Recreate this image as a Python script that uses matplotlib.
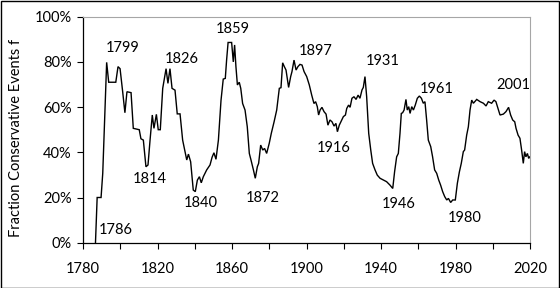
import matplotlib
matplotlib.use("Agg")
import matplotlib.pyplot as plt
from matplotlib.ticker import FuncFormatter, FixedLocator
from matplotlib.patches import Rectangle

plt.rcParams['font.family'] = ['Lato', 'DejaVu Sans']

years = [1786.7, 1787.6, 1789.7, 1790.6, 1792.7, 1793.8, 1797.6, 1798.8, 1799.9, 1801.3,
         1802.5, 1803.6, 1805.8, 1807.0, 1810.2, 1811.1, 1812.4, 1813.8, 1814.9, 1816.0,
         1817.2, 1818.1, 1819.4, 1820.4, 1821.5, 1822.8, 1824.6, 1825.6, 1826.7, 1827.8,
         1829.4, 1830.6, 1832.1, 1833.5, 1834.8, 1835.7, 1836.6, 1837.8, 1839.2, 1840.3,
         1841.4, 1842.5, 1843.5, 1844.6, 1846.4, 1848.2, 1849.3, 1850.3, 1851.4, 1852.7,
         1854.1, 1855.3, 1856.4, 1857.1, 1857.9, 1859.8, 1860.7, 1861.4, 1862.1, 1862.9,
         1863.9, 1864.7, 1865.7, 1867.0, 1868.2, 1869.3, 1870.2, 1871.5, 1872.5, 1873.6,
         1874.3, 1875.4, 1876.5, 1877.5, 1878.6, 1880.0, 1881.1, 1882.6, 1884.0, 1885.4,
         1886.3, 1887.2, 1888.1, 1889.0, 1890.4, 1891.5, 1892.2, 1893.3, 1894.4, 1895.4,
         1896.5, 1897.6, 1898.7, 1900.1, 1901.5, 1902.8, 1904.0, 1904.9, 1905.8, 1906.5,
         1907.3, 1908.3, 1909.4, 1910.5, 1911.5, 1912.6, 1913.7, 1914.8, 1915.8, 1916.6,
         1917.6, 1918.9, 1919.8, 1920.9, 1921.6, 1922.6, 1923.4, 1924.4, 1925.5, 1926.6,
         1927.7, 1928.7, 1929.8, 1930.5, 1931.4, 1932.3, 1933.4, 1934.5, 1935.5, 1936.8,
         1938.0, 1939.5, 1941.3, 1943.0, 1944.8, 1946.3, 1947.3, 1948.4, 1949.3, 1950.2,
         1950.9, 1951.6, 1952.4, 1953.4, 1954.1, 1954.9, 1955.6, 1956.5, 1957.4, 1958.4,
         1959.5, 1960.6, 1961.7, 1962.7, 1963.6, 1964.5, 1965.4, 1966.7, 1967.7, 1968.8,
         1969.9, 1971.0, 1972.0, 1973.1, 1974.2, 1975.3, 1976.2, 1977.4, 1978.5, 1979.9,
         1981.0, 1982.1, 1983.1, 1984.2, 1984.9, 1986.0, 1986.9, 1987.8, 1988.7, 1989.6,
         1991.4, 1993.2, 1995.0, 1996.4, 1997.6, 1999.4, 2000.7, 2001.7, 2002.5, 2003.9,
         2005.7, 2007.1, 2008.5, 2009.6, 2010.7, 2011.8, 2012.5, 2013.6, 2014.6, 2015.5,
         2016.4, 2017.1, 2017.8, 2018.6, 2019.3, 2019.9]

fraction = [0.0, 20.0, 20.0, 30.7, 79.8, 71.0, 71.0, 77.9, 77.0, 66.8,
            57.5, 66.8, 66.4, 50.6, 50.0, 46.0, 45.4, 33.6, 34.4, 45.4,
            56.5, 50.6, 56.8, 50.0, 50.0, 68.3, 77.0, 70.5, 77.0, 68.3,
            67.5, 57.0, 57.0, 45.4, 40.3, 36.6, 39.2, 35.8, 23.3, 22.6,
            27.7, 29.2, 26.5, 29.2, 32.2, 34.4, 37.8, 39.8, 36.9, 45.4,
            63.0, 72.4, 72.7, 80.8, 88.6, 88.6, 80.0, 87.5, 78.0, 69.8,
            71.0, 68.3, 61.6, 58.7, 51.3, 39.5, 36.6, 32.2, 28.5, 33.6,
            35.1, 43.2, 41.0, 41.7, 39.5, 44.0, 48.4, 53.5, 58.7, 68.3,
            68.6, 79.6, 77.9, 76.4, 68.7, 73.5, 75.7, 80.8, 76.4, 77.9,
            78.9, 78.6, 75.7, 73.5, 69.8, 65.3, 61.6, 62.4, 60.2, 56.5,
            58.7, 59.9, 58.0, 56.9, 52.0, 54.3, 53.5, 51.6, 52.8, 49.1,
            52.0, 54.3, 55.8, 56.5, 59.4, 60.9, 59.9, 63.9, 64.6, 63.4,
            65.3, 63.9, 67.6, 68.7, 73.5, 64.6, 48.4, 41.0, 35.1, 32.2,
            29.9, 28.5, 27.7, 27.0, 25.5, 24.0, 31.4, 38.0, 39.5, 48.4,
            57.2, 57.5, 58.7, 63.4, 58.7, 60.2, 57.2, 60.2, 58.7, 60.9,
            63.9, 64.9, 63.9, 61.7, 62.4, 54.3, 45.4, 42.5, 38.0, 32.2,
            30.7, 27.7, 25.5, 22.6, 20.4, 18.9, 19.6, 17.8, 18.9, 18.9,
            26.3, 31.4, 35.1, 40.3, 41.0, 47.6, 51.3, 58.7, 63.1, 61.7,
            63.4, 62.4, 61.7, 60.5, 62.4, 61.7, 63.1, 62.4, 60.2, 56.5,
            56.9, 58.0, 59.9, 56.5, 54.3, 53.5, 50.6, 47.6, 46.2, 41.0,
            35.1, 40.3, 38.0, 39.5, 37.3, 38.0]

label_text = ["1786", "1799", "1814", "1826", "1840", "1859", "1872",
              "1897", "1916", "1931", "1946", "1961", "1980", "2001"]
label_x = [1797.7, 1801.5, 1816.0, 1832.8, 1843.1, 1860.5, 1876.5,
           1905.2, 1914.7, 1940.8, 1949.3, 1970.1, 1985.1, 2011.3]
label_y = [5.8, 86.0, 28.3, 81.4, 17.7, 94.6, 19.8,
           84.7, 41.9, 80.4, 17.3, 68.1, 11.1, 69.6]

x_ticks = [1780, 1820, 1860, 1900, 1940, 1980, 2020]
x_minor_ticks = [1800, 1840, 1880, 1920, 1960, 2000]
y_ticks = [0, 20, 40, 60, 80, 100]
y_label = "Fraction Conservative Events f"

W, H = 560, 288
fig = plt.figure(figsize=(W / 100, H / 100), dpi=100)
ax = fig.add_axes([83 / W, 1 - 242.7 / H, (530 - 83) / W, (242.7 - 16.7) / H])

ax.plot(years, fraction, color='black', lw=1.0, solid_joinstyle='miter')

ax.set_xlim(1780, 2020)
ax.set_ylim(0, 100)
ax.xaxis.set_major_locator(FixedLocator(x_ticks))
ax.xaxis.set_minor_locator(FixedLocator(x_minor_ticks))
ax.yaxis.set_major_locator(FixedLocator(y_ticks))
ax.yaxis.set_major_formatter(FuncFormatter(lambda v, p: f"{int(round(v))}%"))
ax.xaxis.set_major_formatter(FuncFormatter(lambda v, p: f"{int(round(v))}"))

for side in ['top', 'right']:
    ax.spines[side].set_color('#a6a6a6')
    ax.spines[side].set_linewidth(0.8)
for side in ['left', 'bottom']:
    ax.spines[side].set_color('black')
    ax.spines[side].set_linewidth(0.9)

ax.tick_params(axis='x', which='both', direction='out', length=4, width=0.8,
               labelsize=10.5, pad=10, colors='black')
ax.tick_params(axis='y', which='major', direction='out', length=4, width=0.8,
               labelsize=10.5, pad=4, colors='black')

for t, xx, yy in zip(label_text, label_x, label_y):
    ax.text(xx, yy, t, ha='center', va='center', fontsize=10.5, color='black')

fig.text(16 / W, 1 - 138 / H, y_label, rotation=90, ha='center', va='center',
         fontsize=10.5, color='black')

fig.patches.append(Rectangle((0.5 / W, 0.5 / H), 1 - 1.5 / W, 1 - 1.5 / H,
                             transform=fig.transFigure, fill=False,
                             edgecolor='black', lw=1.0))

fig.savefig("out.png", dpi=100)
